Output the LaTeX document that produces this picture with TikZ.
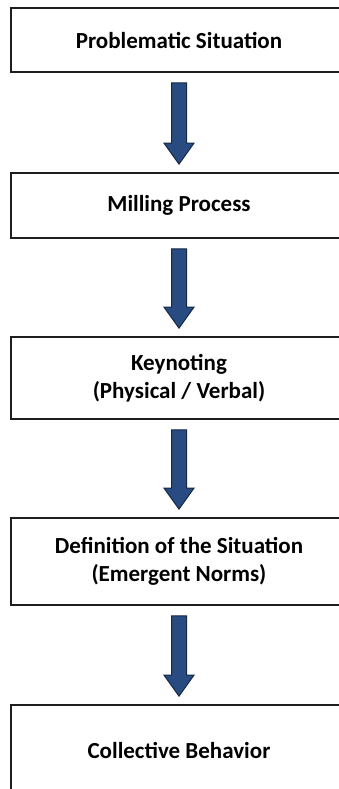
\documentclass[tikz,border=0pt]{standalone}
\usepackage{fontspec}
\setmainfont{Carlito}
\usetikzlibrary{calc}
\definecolor{arrowfill}{RGB}{40,76,130}
\definecolor{arrowedge}{RGB}{22,40,70}
\definecolor{boxedge}{RGB}{30,30,30}
% block arrow from the bottom of one stage to the top of the next
\newcommand\flowarrow[2]{%
  \draw[bigarrow] let \p1=(#1.south), \p2=(#2.north) in
    (179pt-7.5pt,\y1-10pt) -- (179pt+7.5pt,\y1-10pt) -- (179pt+7.5pt,\y2+29pt)
    -- (179pt+15pt,\y2+29pt) -- (179pt,\y2+8pt) -- (179pt-15pt,\y2+29pt)
    -- (179pt-7.5pt,\y2+29pt) -- cycle;}
\begin{document}
\begin{tikzpicture}[x=1pt,y=1pt,
  stage/.style={draw=boxedge, line width=1.8pt, fill=white, minimum width=336pt,
    inner sep=0pt, align=center, font=\fontsize{23}{27.5}\selectfont\bfseries},
  bigarrow/.style={fill=arrowfill, draw=arrowedge, line width=1pt, line join=miter}]
\useasboundingbox (0,0) rectangle (339,-789);
\fill[white] (0,0) rectangle (339,-789);
\node[stage, minimum height=64pt] (s1) at (179,-40) {Problematic Situation};
\node[stage, minimum height=65pt] (s2) at (179,-205.5) {Milling Process};
\node[stage, minimum height=82pt] (s3) at (179,-378) {Keynoting\\(Physical / Verbal)};
\node[stage, minimum height=87pt] (s4) at (179,-561.5) {Definition of the Situation\\(Emergent Norms)};
\node[stage, minimum height=90pt] (s5) at (179,-750) {Collective Behavior};
\flowarrow{s1}{s2}
\flowarrow{s2}{s3}
\flowarrow{s3}{s4}
\flowarrow{s4}{s5}
\end{tikzpicture}
\end{document}
